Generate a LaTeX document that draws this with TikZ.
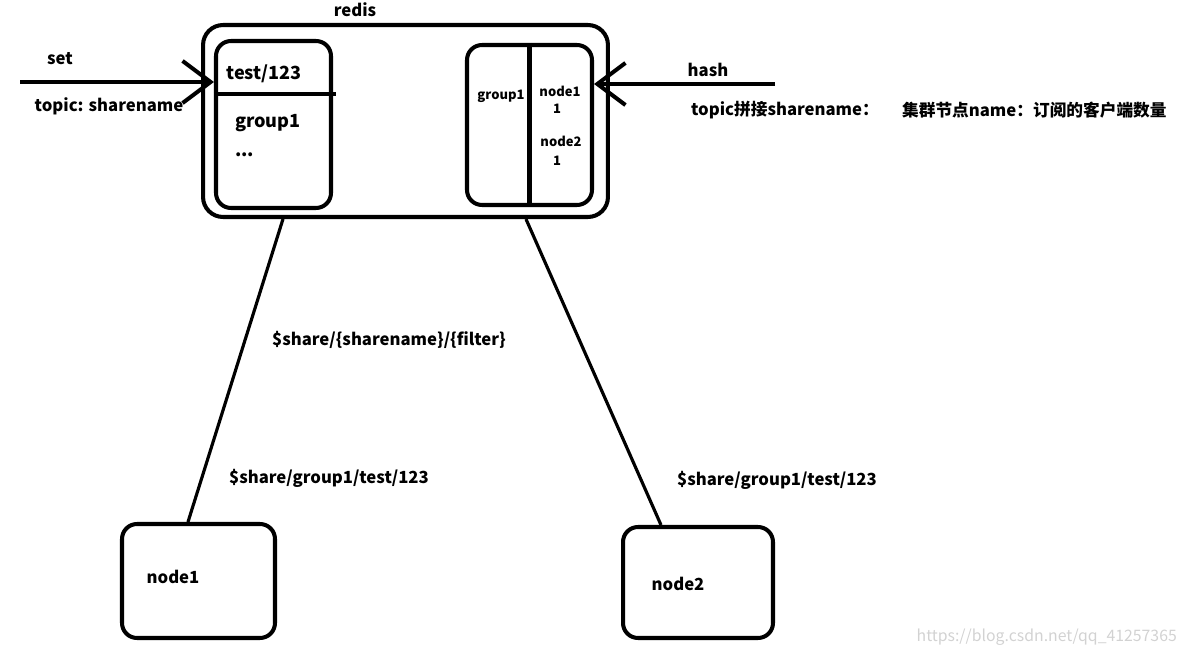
\documentclass[tikz,border=0pt]{standalone}
\usepackage{fontspec}
\setmainfont{Noto Sans CJK SC}
\usetikzlibrary{arrows.meta, positioning, calc}

\begin{document}
\begin{tikzpicture}[
    x=0.02cm, y=-0.02cm,
    box/.style={rectangle, draw, line width=2.3pt, rounded corners=0.3cm, inner sep=0pt},
    lbl/.style={font=\fontsize{9.5}{11}\selectfont\bfseries, inner sep=1pt},
    big/.style={font=\fontsize{10.3}{12}\selectfont\bfseries, inner sep=1pt},
    tiny/.style={font=\fontsize{7.4}{9}\selectfont\bfseries, inner sep=1pt},
    feed/.style={line width=2.3pt, -{Straight Barb[length=16pt, width=24pt, line width=2.3pt]}},
    link/.style={line width=1.8pt},
  ]
    \useasboundingbox (0,0) rectangle (1190,655);

    % redis and its two tables
    \node[box, rounded corners=0.4cm, minimum width=8.1cm, minimum height=3.84cm] (redis) at (405.5,121) {};
    \node[box, minimum width=2.3cm, minimum height=3.34cm] (setbox) at (273.5,124.5) {};
    \node[box, minimum width=2.5cm, minimum height=3.2cm] (hashbox) at (529.5,125) {};
    \node[lbl] (redislbl) at (355,10) {redis};

    \coordinate (cut) at (273,94);
    \draw[line width=2.3pt] (cut -| setbox.west) -- ([xshift=0.06cm]cut -| setbox.east);
    \draw[line width=2.3pt] (hashbox.north) -- (hashbox.south);

    \node[big] (key) at (264,74) {test/123};
    \node[big, anchor=west] (member) at (233,123) {group1};
    \node[big, anchor=west] (more) at (233,155) {...};

    \node[tiny] (hkey) at (501,96) {group1};
    \node[tiny] (f1) at (560,91) {node1};
    \node[tiny] (v1) at (557,109) {1};
    \node[tiny] (f2) at (561,141) {node2};
    \node[tiny] (v2) at (557,161) {1};

    % incoming arrows
    \coordinate (setin) at (20,82);
    \coordinate (hashin) at (775,84);
    \draw[feed] (setin) -- (setin -| setbox.west);
    \draw[feed] (hashin) -- (hashin -| hashbox.east);

    \node[lbl] (setlbl) at (60,59) {set};
    \node[lbl] (setkey) at (109,106) {topic: sharename};
    \node[lbl] (hashlbl) at (708,70) {hash};
    \node[lbl, anchor=west] (hashkey) at (689,110) {topic拼接sharename：};
    \node[lbl, anchor=west] (hashval) at (900,110) {集群节点name：订阅的客户端数量};

    % cluster nodes
    \node[box, minimum width=3.06cm, minimum height=2.28cm] (node1) at (198.5,581) {};
    \node[box, minimum width=3.0cm, minimum height=2.22cm] (node2) at (698,582.5) {};
    \node[lbl] (n1lbl) at (173,577) {node1};
    \node[lbl] (n2lbl) at (678,584) {node2};

    \draw[link] ([xshift=1.64cm]redis.south west) -- ([xshift=1.36cm]node1.north west);
    \draw[link] ([xshift=6.5cm]redis.south west) -- ([xshift=0.8cm]node2.north west);

    \node[lbl, anchor=west] (subs) at (270,340) {\$share/\{sharename\}/\{filter\}};
    \node[lbl, anchor=west] (sub1) at (227,478) {\$share/group1/test/123};
    \node[lbl, anchor=west] (sub2) at (675,480) {\$share/group1/test/123};

    \node[anchor=east, text=gray!35, font=\fontsize{9}{10}\selectfont] (mark) at (1183,637) {https://blog.csdn.net/qq\_41257365};
\end{tikzpicture}
\end{document}
